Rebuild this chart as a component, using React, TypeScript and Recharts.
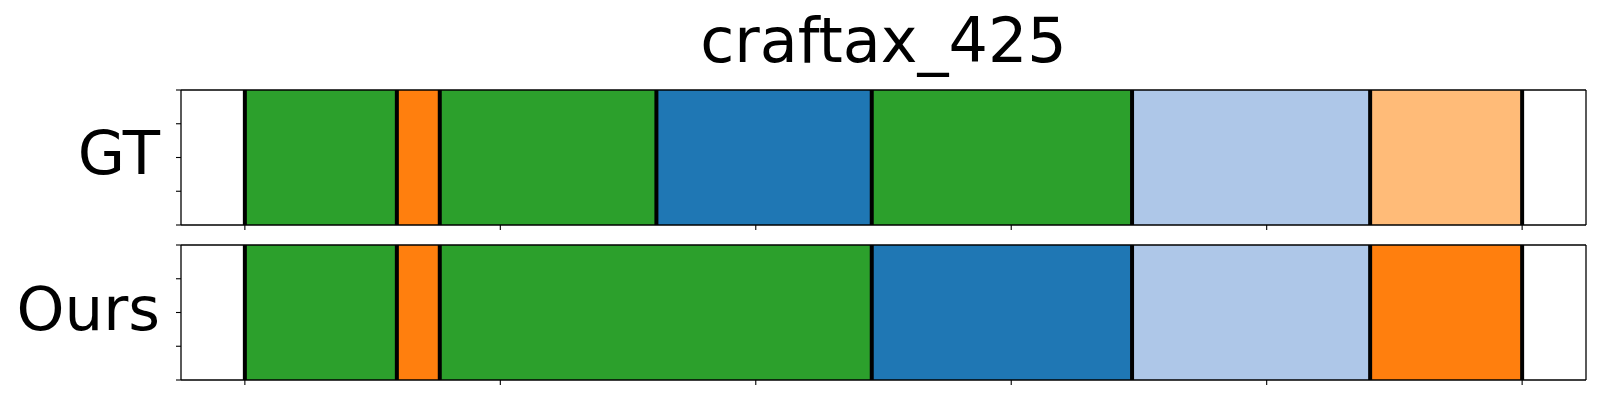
import { BarChart, Bar, XAxis, YAxis, ReferenceLine } from 'recharts';

// segment colours (tab20)
const GREEN = '#2ca02c';
const ORANGE = '#ff7f0e';
const BLUE = '#1f77b4';
const LIGHT_BLUE = '#aec7e8';
const LIGHT_ORANGE = '#ffbb78';

// segment lengths in frames
const gtLengths = [59.5, 16.8, 84.8, 84.3, 101.9, 93.2, 59.5];
const gtColors = [GREEN, ORANGE, GREEN, BLUE, GREEN, LIGHT_BLUE, LIGHT_ORANGE];

const oursLengths = [59.5, 16.8, 169.1, 101.9, 93.2, 59.5];
const oursColors = [GREEN, ORANGE, GREEN, BLUE, LIGHT_BLUE, ORANGE];

const xTicks = [0, 100, 200, 300, 400, 500];
const yTicks = [0, 0.25, 0.5, 0.75, 1];

const FONT = 'DejaVu Sans';
const spine = { stroke: '#000', strokeWidth: 1.3 };
const tickMark = { stroke: '#000', strokeWidth: 1.1 };

function boundaries(lengths: number[]) {
  const out = [0];
  lengths.forEach((l) => out.push(out[out.length - 1] + l));
  return out;
}

// the y axis is categorical (one row), so draw matplotlib-style 0..1 tick marks across the band
function BandTicks(props: any) {
  const { x, height, payload } = props;
  const c = payload.coordinate;
  return (
    <g>
      {yTicks.map((t) => {
        const y = c + (0.5 - t) * height;
        return <line key={t} x1={x - 5} x2={x} y1={y} y2={y} {...tickMark} />;
      })}
    </g>
  );
}

function Timeline({
  name,
  lengths,
  colors,
  height,
  margin,
}: {
  name: string;
  lengths: number[];
  colors: string[];
  height: number;
  margin: { top: number; right: number; bottom: number; left: number };
}) {
  const row: Record<string, string | number> = { name };
  lengths.forEach((l, i) => (row[`s${i}`] = l));
  const edges = boundaries(lengths);

  return (
    <BarChart
      width={1600}
      height={height}
      data={[row]}
      layout="vertical"
      margin={margin}
      barCategoryGap={0}
    >
      <XAxis
        type="number"
        domain={[-25, 525]}
        ticks={xTicks}
        tickFormatter={() => ''}
        tickSize={5}
        height={10}
        tickLine={tickMark}
        axisLine={spine}
      />
      <XAxis
        xAxisId="top"
        orientation="top"
        type="number"
        domain={[-25, 525]}
        tick={false}
        tickLine={false}
        height={1}
        axisLine={spine}
      />
      <YAxis
        type="category"
        dataKey="name"
        width={181}
        tickSize={0}
        tickMargin={0}
        tickLine={false}
        tick={<BandTicks />}
        axisLine={spine}
      />
      <YAxis
        yAxisId="right"
        orientation="right"
        type="category"
        dataKey="name"
        tick={false}
        tickLine={false}
        width={1}
        axisLine={spine}
      />
      {lengths.map((_, i) => (
        <Bar
          key={i}
          dataKey={`s${i}`}
          stackId="seg"
          fill={colors[i]}
          isAnimationActive={false}
        />
      ))}
      {edges.map((e, i) => (
        <ReferenceLine key={i} x={e} stroke="#000" strokeWidth={4} />
      ))}
    </BarChart>
  );
}

export default function App() {
  return (
    <div
      style={{
        position: 'absolute',
        left: 0,
        top: 0,
        width: 1600,
        height: 400,
        background: '#fff',
        fontFamily: FONT,
      }}
    >
      <svg width={1600} height={400} style={{ position: 'absolute', left: 0, top: 0 }}>
        <text x={883.5} y={62} textAnchor="middle" fontSize={62} fontFamily={FONT} fill="#000">
          craftax_425
        </text>
        <text x={160} y={174} textAnchor="end" fontSize={61} fontFamily={FONT} fill="#000">
          GT
        </text>
        <text x={160} y={330} textAnchor="end" fontSize={61} fontFamily={FONT} fill="#000">
          Ours
        </text>
      </svg>
      <div style={{ position: 'absolute', left: 0, top: 0 }}>
        <Timeline
          name="GT"
          lengths={gtLengths}
          colors={gtColors}
          height={240}
          margin={{ top: 89, right: 13, bottom: 5, left: 0 }}
        />
      </div>
      <div style={{ position: 'absolute', left: 0, top: 240 }}>
        <Timeline
          name="Ours"
          lengths={oursLengths}
          colors={oursColors}
          height={160}
          margin={{ top: 4, right: 13, bottom: 10, left: 0 }}
        />
      </div>
    </div>
  );
}
